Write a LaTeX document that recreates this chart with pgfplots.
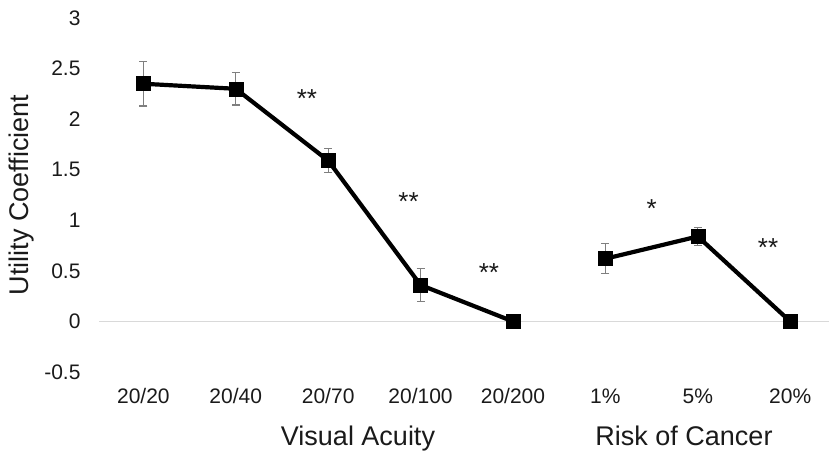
\documentclass[border=0pt]{standalone}
\usepackage{fontspec}
\setmainfont{Liberation Sans}
\usepackage{pgfplots}
\pgfplotsset{compat=1.18}
\definecolor{zline}{HTML}{D9D9D9}
\definecolor{ebar}{HTML}{7F7F7F}
\definecolor{txt}{HTML}{1A1A1A}
\begin{document}
\begin{tikzpicture}[x=1pt,y=1pt]
\path[use as bounding box] (0,0) rectangle (829,456);
\begin{axis}[
  at={(99pt,84pt)}, anchor=south west,
  scale only axis, width=730pt, height=354pt,
  xmin=-0.48, xmax=7.42, ymin=-0.5, ymax=3,
  axis line style={draw=none},
  major tick length=0pt,
  xtick={0,...,7},
  xticklabels={20/20,20/40,20/70,20/100,20/200,1\%,5\%,20\%},
  ytick={-0.5,0,0.5,1,1.5,2,2.5,3},
  yticklabels={-0.5,0,0.5,1,1.5,2,2.5,3},
  /pgf/number format/assume math mode=true,
  tick label style={font=\fontsize{21}{24}\selectfont, text=txt},
  yticklabel style={xshift=-15pt},
  xticklabel style={yshift=-13pt},
  clip=false,
]
\addplot[zline, line width=1.5pt, forget plot] coordinates {(-0.48,0) (7.42,0)};
\addplot[black, line width=4.2pt, mark=square*, mark size=7pt,
  mark options={solid, line width=0.5pt},
  error bars/.cd, y dir=both, y explicit,
  error bar style={ebar, line width=1.2pt},
  error mark options={rotate=90, ebar, mark size=4pt, line width=1.2pt}]
  coordinates {
  (0,2.35) +- (0,0.22)
  (1,2.30) +- (0,0.16)
  (2,1.59) +- (0,0.12)
  (3,0.36) +- (0,0.16)
  (4,0) +- (0,0)
  };
\addplot[black, line width=4.2pt, mark=square*, mark size=7pt,
  mark options={solid, line width=0.5pt},
  error bars/.cd, y dir=both, y explicit,
  error bar style={ebar, line width=1.2pt},
  error mark options={rotate=90, ebar, mark size=4pt, line width=1.2pt}]
  coordinates {
  (5,0.62) +- (0,0.15)
  (6,0.84) +- (0,0.09)
  (7,0) +- (0,0)
  };
\node[font=\fontsize{26}{28}\selectfont, text=txt] at (axis cs:1.77,2.20) {**};
\node[font=\fontsize{26}{28}\selectfont, text=txt] at (axis cs:2.87,1.19) {**};
\node[font=\fontsize{26}{28}\selectfont, text=txt] at (axis cs:3.74,0.48) {**};
\node[font=\fontsize{26}{28}\selectfont, text=txt] at (axis cs:5.50,1.12) {*};
\node[font=\fontsize{26}{28}\selectfont, text=txt] at (axis cs:6.76,0.73) {**};
\end{axis}
\node[font=\fontsize{27}{30}\selectfont, text=txt, anchor=base] at (358,11) {Visual Acuity};
\node[font=\fontsize{27}{30}\selectfont, text=txt, anchor=base] at (684,11) {Risk of Cancer};
\node[rotate=90, font=\fontsize{27}{30}\selectfont, text=txt] at (22,261) {Utility Coefficient};
\end{tikzpicture}
\end{document}
